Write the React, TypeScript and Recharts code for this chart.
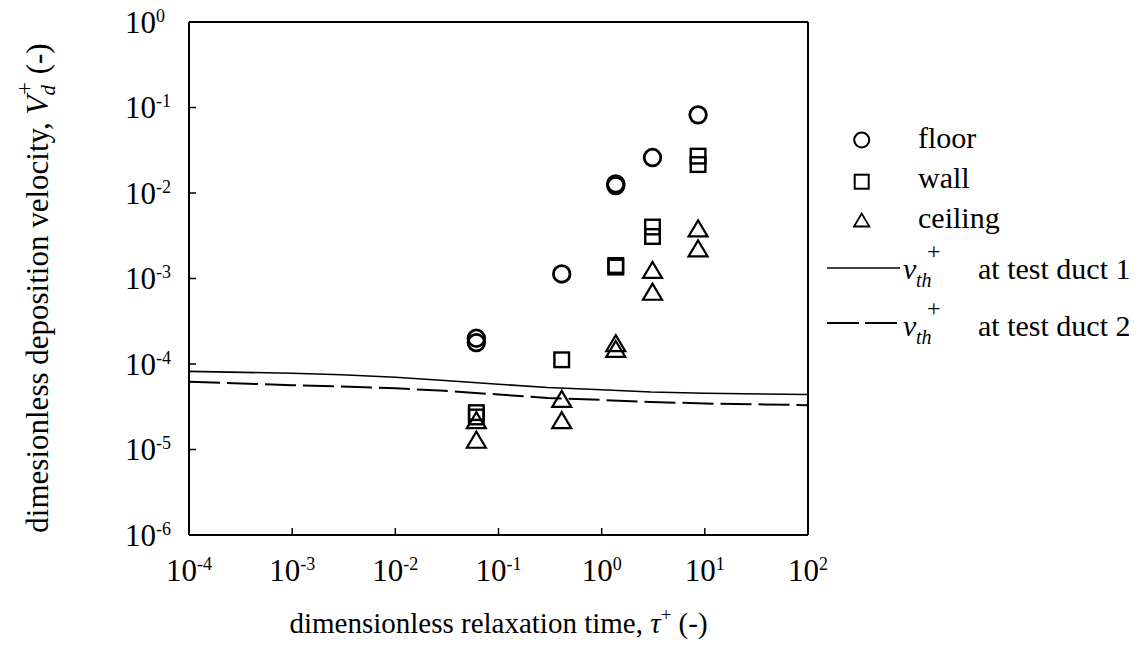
import React from 'react';
import { ScatterChart, Scatter, XAxis, YAxis, Legend } from 'recharts';

const FONT = '"Liberation Serif", "Times New Roman", Tinos, "DejaVu Serif", serif';
const fontStyle: React.CSSProperties = { fontFamily: FONT };

// tick values (decades)
const xTicks = [1e-4, 1e-3, 1e-2, 1e-1, 1, 10, 100];
const yTicks = [1e-6, 1e-5, 1e-4, 1e-3, 1e-2, 1e-1, 1];

// measured deposition velocities
const floorData = [
  { x: 0.061, y: 2.0e-4 },
  { x: 0.061, y: 1.78e-4 },
  { x: 0.41, y: 1.13e-3 },
  { x: 1.37, y: 1.28e-2 },
  { x: 1.37, y: 1.22e-2 },
  { x: 3.11, y: 2.6e-2 },
  { x: 8.6, y: 8.2e-2 },
];

const wallData = [
  { x: 0.061, y: 2.7e-5 },
  { x: 0.061, y: 2.4e-5 },
  { x: 0.41, y: 1.12e-4 },
  { x: 1.37, y: 1.42e-3 },
  { x: 1.37, y: 1.36e-3 },
  { x: 3.11, y: 4.0e-3 },
  { x: 3.11, y: 3.1e-3 },
  { x: 8.6, y: 2.7e-2 },
  { x: 8.6, y: 2.15e-2 },
];

const ceilingData = [
  { x: 0.061, y: 2.2e-5 },
  { x: 0.061, y: 1.3e-5 },
  { x: 0.41, y: 3.9e-5 },
  { x: 0.41, y: 2.2e-5 },
  { x: 1.37, y: 1.75e-4 },
  { x: 1.37, y: 1.5e-4 },
  { x: 3.11, y: 1.26e-3 },
  { x: 3.11, y: 7.0e-4 },
  { x: 8.6, y: 3.85e-3 },
  { x: 8.6, y: 2.25e-3 },
];

// thermophoretic velocity curves
const duct1Line = [
  { x: 1e-4, y: 8.2e-5 },
  { x: 1e-3, y: 7.8e-5 },
  { x: 3e-3, y: 7.5e-5 },
  { x: 1e-2, y: 7.0e-5 },
  { x: 3e-2, y: 6.4e-5 },
  { x: 1e-1, y: 5.8e-5 },
  { x: 3e-1, y: 5.3e-5 },
  { x: 1, y: 5.0e-5 },
  { x: 3, y: 4.7e-5 },
  { x: 10, y: 4.55e-5 },
  { x: 100, y: 4.4e-5 },
];

const duct2Line = [
  { x: 1e-4, y: 6.2e-5 },
  { x: 1e-3, y: 5.65e-5 },
  { x: 3e-3, y: 5.45e-5 },
  { x: 1e-2, y: 5.2e-5 },
  { x: 3e-2, y: 4.85e-5 },
  { x: 1e-1, y: 4.4e-5 },
  { x: 3e-1, y: 4.0e-5 },
  { x: 1, y: 3.8e-5 },
  { x: 3, y: 3.6e-5 },
  { x: 10, y: 3.45e-5 },
  { x: 100, y: 3.3e-5 },
];

const legendMarkerLabels = ['floor', 'wall', 'ceiling'];
const legendLineLabels = ['at test duct 1', 'at test duct 2'];

const W = 1148;
const H = 661;

const CircleShape = (p: any) => (
  <circle cx={p.cx} cy={p.cy} r={8.3} fill="none" stroke="#000" strokeWidth={2.8} />
);
const SquareShape = (p: any) => (
  <rect x={p.cx - 7.3} y={p.cy - 7.3} width={14.6} height={14.6} fill="none" stroke="#000" strokeWidth={2.4} />
);
const TriangleShape = (p: any) => {
  const w = 19;
  const h = 16;
  const pts = `${p.cx - w / 2},${p.cy + h / 2} ${p.cx + w / 2},${p.cy + h / 2} ${p.cx},${p.cy - h / 2}`;
  return <polygon points={pts} fill="none" stroke="#000" strokeWidth={2.2} strokeLinejoin="miter" />;
};
const EmptyShape = () => <g />;

const expOf = (v: number) => Math.round(Math.log10(v));

const XTick = (props: any) => {
  const { x, payload } = props;
  return (
    <text x={x} y={581} textAnchor="middle" style={fontStyle} fontSize={31} fill="#000">
      <tspan>10</tspan>
      <tspan dy={-11} fontSize={18}>{String(expOf(payload.value))}</tspan>
    </text>
  );
};

const YTick = (props: any) => {
  const { y, payload } = props;
  return (
    <text x={125} y={y + 10.5} textAnchor="start" style={fontStyle} fontSize={31} fill="#000">
      <tspan>10</tspan>
      <tspan dy={-11} fontSize={18}>{String(expOf(payload.value))}</tspan>
    </text>
  );
};

const XLabel = (props: any) => {
  const vb = props.viewBox || { x: 189, width: 619 };
  const cx = vb.x + vb.width / 2;
  return (
    <text x={cx} y={633} textAnchor="middle" style={fontStyle} fontSize={29} fill="#000">
      <tspan>dimensionless relaxation time, </tspan>
      <tspan fontStyle="italic">τ</tspan>
      <tspan dy={-12} fontSize={19}>+</tspan>
      <tspan dy={12}> (-)</tspan>
    </text>
  );
};

const YLabel = () => {
  const cx = 47.5;
  const cy = 288;
  return (
    <text
      x={cx}
      y={cy}
      transform={`rotate(-90, ${cx}, ${cy})`}
      textAnchor="middle"
      style={fontStyle}
      fontSize={31}
      fill="#000"
    >
      <tspan>dimesionless deposition velocity, </tspan>
      <tspan fontStyle="italic">V</tspan>
      <tspan fontStyle="italic" fontSize={21} dy={7}>d</tspan>
      <tspan fontSize={23} dx={-10} dy={-23}>+</tspan>
      <tspan dy={16}> (-)</tspan>
    </text>
  );
};

const LegendContent = () => {
  const textX = 118;
  const rowsY = [48, 88, 128];
  const lineRows = [
    { lineY: 168, base: 179, dash: undefined as string | undefined, sw: 1.6 },
    { lineY: 223, base: 236, dash: '32 6', sw: 2 },
  ];
  return (
    <svg width={348} height={260} style={{ overflow: 'visible', display: 'block', fontFamily: FONT }}>
      <circle cx={61.7} cy={40} r={7.5} fill="none" stroke="#000" strokeWidth={2} />
      <rect x={54.7} y={74.7} width={14} height={14} fill="none" stroke="#000" strokeWidth={2} />
      <polygon points="54,126.5 69.4,126.5 61.7,113.5" fill="none" stroke="#000" strokeWidth={1.8} />
      {legendMarkerLabels.map((l, i) => (
        <text key={l} x={textX} y={rowsY[i]} style={fontStyle} fontSize={30} fill="#000">
          {l}
        </text>
      ))}
      {lineRows.map((r, i) => (
        <g key={i}>
          <line x1={27} x2={100} y1={r.lineY} y2={r.lineY} stroke="#000" strokeWidth={r.sw} strokeDasharray={r.dash} />
          <text x={103} y={r.base} style={fontStyle} fontSize={30} fontStyle="italic" fill="#000">v</text>
          <text x={116} y={r.base + 8} style={fontStyle} fontSize={20} fontStyle="italic" fill="#000">th</text>
          <text x={127} y={r.base - 20} style={fontStyle} fontSize={24} fill="#000">+</text>
          <text x={178} y={r.base} style={fontStyle} fontSize={30} fill="#000">{legendLineLabels[i]}</text>
        </g>
      ))}
    </svg>
  );
};

const axisLineStyle = { stroke: '#000', strokeWidth: 2 };
const tickLineStyle = { stroke: '#000', strokeWidth: 1.5 };

export default function App() {
  return (
    <div
      style={{
        width: W,
        height: H,
        background: '#fff',
        position: 'relative',
        marginLeft: -8,
        marginTop: -8,
        fontFamily: FONT,
      }}
    >
      <ScatterChart width={W} height={H} margin={{ top: 21, right: 339, bottom: 66, left: 109 }}>
        <XAxis
          dataKey="x"
          type="number"
          scale="log"
          domain={[1e-4, 100]}
          ticks={xTicks}
          allowDataOverflow
          interval={0}
          height={60}
          tickSize={-7}
          tick={<XTick />}
          axisLine={axisLineStyle}
          tickLine={tickLineStyle}
          label={<XLabel />}
        />
        <XAxis
          xAxisId="top"
          orientation="top"
          type="number"
          scale="log"
          domain={[1e-4, 100]}
          ticks={xTicks}
          allowDataOverflow
          interval={0}
          height={1}
          tickSize={-7}
          tick={false}
          axisLine={axisLineStyle}
          tickLine={tickLineStyle}
        />
        <YAxis
          dataKey="y"
          type="number"
          scale="log"
          domain={[1e-6, 1]}
          ticks={yTicks}
          allowDataOverflow
          interval={0}
          width={80}
          tickSize={-7}
          tick={<YTick />}
          axisLine={axisLineStyle}
          tickLine={tickLineStyle}
          label={<YLabel />}
        />
        <YAxis
          yAxisId="right"
          orientation="right"
          type="number"
          scale="log"
          domain={[1e-6, 1]}
          ticks={yTicks}
          allowDataOverflow
          interval={0}
          width={1}
          tickSize={-7}
          tick={false}
          axisLine={axisLineStyle}
          tickLine={tickLineStyle}
        />
        <Legend
          layout="vertical"
          align="center"
          verticalAlign="middle"
          content={<LegendContent />}
          wrapperStyle={{ left: 800, top: 100, width: 348, height: 260 }}
        />
        <Scatter
          name="duct1"
          data={duct1Line}
          line={{ stroke: '#000', strokeWidth: 1.6 }}
          shape={EmptyShape}
          isAnimationActive={false}
        />
        <Scatter
          name="duct2"
          data={duct2Line}
          line={{ stroke: '#000', strokeWidth: 2, strokeDasharray: '31 7' }}
          shape={EmptyShape}
          isAnimationActive={false}
        />
        <Scatter name="floor" data={floorData} shape={CircleShape} isAnimationActive={false} />
        <Scatter name="wall" data={wallData} shape={SquareShape} isAnimationActive={false} />
        <Scatter name="ceiling" data={ceilingData} shape={TriangleShape} isAnimationActive={false} />
      </ScatterChart>
    </div>
  );
}
